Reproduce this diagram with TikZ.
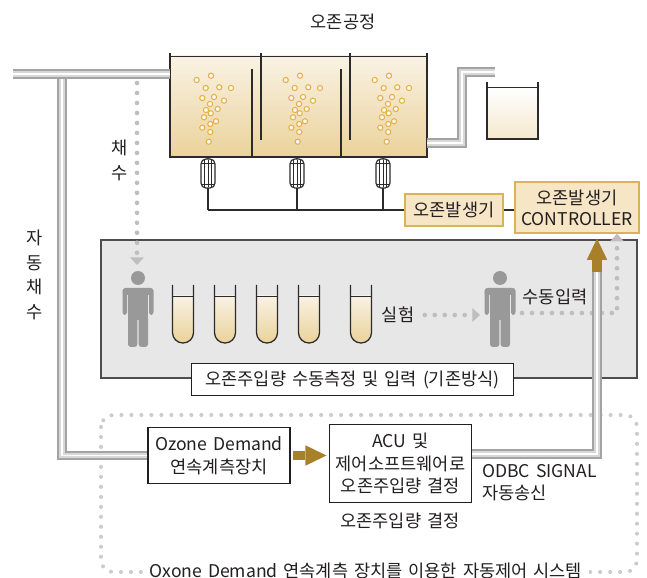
\documentclass[tikz,border=0pt]{standalone}
\usepackage{fontspec}
\setmainfont{Noto Sans CJK KR}[WordSpace=1.5]
\usetikzlibrary{arrows.meta}

\definecolor{ink}{HTML}{231F20}
\definecolor{wallInk}{HTML}{2B2B2B}
\definecolor{tanTop}{HTML}{F9F2E4}
\definecolor{tanBot}{HTML}{EAD29A}
\definecolor{boxFill}{HTML}{F7E6C6}
\definecolor{boxLine}{HTML}{D9B25A}
\definecolor{panel}{HTML}{E6E7E6}
\definecolor{panelInk}{HTML}{4D4D4D}
\definecolor{manGray}{HTML}{999999}
\definecolor{gold}{HTML}{A8802A}
\definecolor{dotGray}{HTML}{BEBEBE}
\definecolor{frameGray}{HTML}{CCCCCC}
\definecolor{pipeDark}{HTML}{A3A3A3}
\definecolor{pipeLight}{HTML}{D8D8D8}
\definecolor{bubbleLine}{HTML}{E5B048}
\definecolor{bubbleFill}{HTML}{FFF9EC}

\tikzset{
  % standing figure, origin at the centre of the head
  man/.pic={
    \fill[manGray] (0,0) circle[radius=7];
    \fill[manGray, rounded corners=2pt] (-15.5,10) rectangle (15.5,17);
    \fill[manGray, rounded corners=2pt] (-15.5,12) rectangle (-11,37);
    \fill[manGray, rounded corners=2pt] (11,12) rectangle (15.5,37);
    \fill[manGray] (-10,10) rectangle (10,42);
    \fill[manGray, rounded corners=2pt] (-10,38) rectangle (-0.7,69);
    \fill[manGray, rounded corners=2pt] (0.7,38) rectangle (10,69);
  },
  % test tube, origin at the top of the rim
  tube/.pic={
    \begin{scope}
      \clip[rounded corners=7.4pt] (-10.5,-5) -- (-10.5,58) -- (10.5,58) -- (10.5,-5) -- cycle;
      \shade[top color=tanTop, bottom color=tanBot] (-10.5,11) rectangle (10.5,58);
    \end{scope}
    \draw[wallInk, line width=0.9pt, rounded corners=7.4pt] (-10.5,0) -- (-10.5,58) -- (10.5,58) -- (10.5,0);
    \draw[wallInk, line width=0.6pt] (-10.5,11) -- (10.5,11);
  },
  % diffuser under the tank, origin at its top
  diffuser/.pic={
    \draw[wallInk, fill=white, line width=0.8pt, rounded corners=3.5pt] (-7,0) rectangle (7,29);
    \foreach \dx in {-3.5,0,3.5}
      \draw[wallInk, line width=0.5pt] (\dx,1) -- (\dx,28);
    \draw[wallInk, line width=0.5pt] (-7,4) -- (7,4) (-7,25) -- (7,25);
  },
  % rising ozone bubbles in one chamber
  bubbles/.pic={
    \foreach \bx/\by in {-14.3/80, 0/75.7, -5.3/88, 8.3/87.3, 20/88, -8.7/98, 3/97,
        13/100.7, -1/104, -5/110, -0.3/113.3, 6.7/109, -7/117.3, -0.7/124, 5/121.3,
        -8.7/127.7, -0.7/132, -2.3/141.7}
      \draw[bubbleLine, fill=bubbleFill, line width=0.75pt] (\bx,\by) circle[radius=2.6];
  }
}

\begin{document}
\begin{tikzpicture}[x=0.025cm, y=-0.025cm, text=ink,
    font=\fontsize{12.5}{16}\selectfont,
    genbox/.style={draw=boxLine, fill=boxFill, line width=0.9pt, align=center, inner sep=0pt},
    whitebox/.style={draw=ink, fill=white, line width=0.8pt, align=center, inner sep=0pt},
    pipe/.style={draw=pipeDark, line width=6.8pt, line join=miter,
        postaction={draw=pipeLight, line width=4.2pt},
        postaction={draw=white, line width=1.2pt}},
    dotline/.style={draw=dotGray, line width=3.3pt, line cap=round, dash pattern=on 0pt off 7.1pt},
    framedots/.style={draw=frameGray, line width=2.9pt, line cap=round, dash pattern=on 0pt off 7.1pt},
    dottip/.style={-{Triangle[length=5.5pt, width=10pt, line width=0pt]}},
    goldarrow/.style={draw=gold, line width=7pt, -{Triangle[length=15pt, width=14.5pt, line width=0pt]}},
    wall/.style={draw=wallInk, line width=1.2pt}]

  \useasboundingbox (0,0) rectangle (647,578);

  % manual measuring panel and the automatic system frame
  \draw[draw=panelInk, fill=panel, line width=1.1pt] (101,240) rectangle (637,378);
  \draw[framedots, rounded corners=8.5pt] (101,415) rectangle (637,572);

  % ozone contact tank
  \shade[top color=tanTop, bottom color=tanBot] (170,56) rectangle (427,157);
  \foreach \x in {211,300,389}
    \pic at (\x,0) {bubbles};
  \draw[wallInk, line width=0.7pt] (170,56) -- (427,56);
  \draw[wall] (170,53) -- (170,157) (427,53) -- (427,157);
  \draw[wall] (252,69) -- (252,157) (341,69) -- (341,157);
  \draw[wall] (261,53) -- (261,140) (350,53) -- (350,140);
  \draw[wallInk, line width=2pt] (169,157) -- (428,157);

  % outlet basin
  \shade[top color=white, bottom color=tanTop!70!tanBot] (487,87) rectangle (538,139);
  \draw[wallInk, line width=0.5pt] (487,87) -- (538,87);
  \draw[wall] (487,82) -- (487,139) -- (538,139) -- (538,82);

  % pipes
  \draw[pipe] (427,143) -- (462,143) -- (462,72) -- (495,72);

  % text
  \node (TITLE) at (343,22) {오존공정};
  \node (OG) [genbox, minimum width=2.45cm, minimum height=0.8cm] at (454,210) {오존발생기};
  \node (CTRL) [genbox, minimum width=3.1cm, minimum height=1.28cm,
      font=\fontsize{12.5}{15}\selectfont] at (577,207.5) {오존발생기\\CONTROLLER};
  \node (CHAE) [align=center, font=\fontsize{12.5}{17.7}\selectfont] at (120,160.5) {채\\수};
  \node (AUTO) [align=center, font=\fontsize{12.5}{17.5}\selectfont] at (35,275) {자\\동\\채\\수};
  \node (EXP) at (398,315) {실험};
  \node (MANUAL) at (555,297) {수동입력};
  \node (LAB) [whitebox, minimum width=8.03cm, minimum height=0.78cm] at (352.5,379.5)
      {오존주입량 수동측정 및 입력 (기존방식)};
  \node (ODM) [whitebox, minimum width=3.55cm, minimum height=1.38cm] at (219,455.5)
      {Ozone Demand\\연속계측장치};
  \node (ACU) [whitebox, minimum width=3.53cm, minimum height=1.93cm] at (400.5,463.5)
      {ACU 및\\제어소프트웨어로\\오존주입량 결정};
  \node (ODBC) [anchor=west, align=left, inner sep=0pt] at (482,482.5) {ODBC SIGNAL\\자동송신};
  \node (DECIDE) at (400,521) {오존주입량 결정};
  \node (SYS) [fill=white, inner xsep=5pt, inner ysep=1pt] at (366,571)
      {Oxone Demand 연속계측 장치를 이용한 자동제어 시스템};

  % diffusers and gas line
  \coordinate (GAS) at (208,210);
  \foreach \x in {208,297,383} {
    \draw[wallInk, line width=0.8pt] (\x,157) -- (\x,210);
    \pic at (\x,159) {diffuser};
  }
  \draw[wallInk, line width=0.8pt] (GAS) -- (OG.west);
  \draw[wallInk, line width=0.8pt] (OG.east) -- (OG.east -| CTRL.west);

  % sampling
  \coordinate (TAP) at (137,83);
  \coordinate (P1in) at (137,265);
  \draw[dotline, dottip] (TAP) -- (P1in);

  % lab work
  \pic at (138,278) {man};
  \foreach \x in {183,225,267,309,361}
    \pic at (\x,285) {tube};
  \pic at (500,278) {man};
  \coordinate (P2in) at (480,315);
  \coordinate (P2out) at (522,313);
  \draw[dotline, dottip, shorten <=4pt] (EXP.east) -- (P2in);
  \draw[dotline, dottip] (P2out) -- (617,313) -- ([xshift=1cm]CTRL.south);

  % automatic sampling line and signal line
  \coordinate (BEND) at (597,454);
  \coordinate (RISE) at (597,272);
  \draw[pipe] (ODM.west) -- (62,455.5) -- (62,74);
  \draw[pipe] (13,74) -- (170,74);
  \draw[pipe] (ACU.east |- BEND) -- (BEND) -- (RISE);
  \draw[goldarrow] (RISE) -- ([xshift=0.5cm, yshift=-3.5pt]CTRL.south);
  \draw[goldarrow, shorten <=1.5pt, shorten >=2pt] (ODM.east) -- (ODM.east -| ACU.west);

\end{tikzpicture}
\end{document}
